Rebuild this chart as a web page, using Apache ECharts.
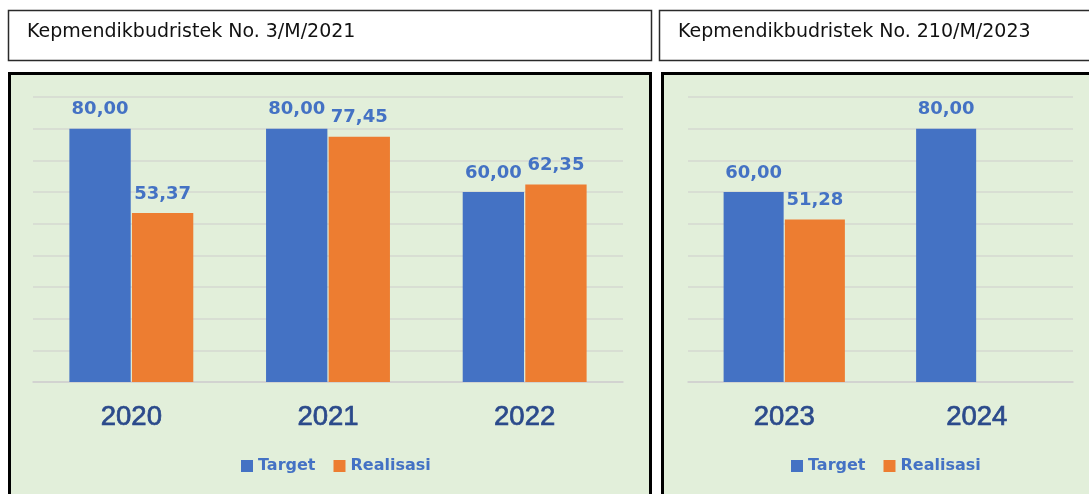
<!DOCTYPE html>
<html lang="id">
<head>
    <meta charset="utf-8">
    <title>Target dan Realisasi</title>
    <script src="https://cdn.jsdelivr.net/npm/echarts@6/dist/echarts.min.js"></script>
    <style type="text/css">
        html, body {
            width: 100%;
            height: 100%;
            margin: 0px;
            padding: 0px;
            background: #ffffff;
        }
        #main {
            width: 1089px;
            height: 494px;
        }
    </style>
</head>
<body>
<div id="main"></div>
<script>
    // data
    var judulKiri = 'Kepmendikbudristek No. 3/M/2021';
    var judulKanan = 'Kepmendikbudristek No. 210/M/2023';
    var seriesNames = ['Target', 'Realisasi'];

    var tahunKiri = ['2020', '2021', '2022'];
    var targetKiri = [80.00, 80.00, 60.00];
    var realisasiKiri = [53.37, 77.45, 62.35];

    var tahunKanan = ['2023', '2024'];
    var targetKanan = [60.00, 80.00];
    var realisasiKanan = [51.28, null];

    var biru = '#4472C4';
    var oranye = '#ED7D31';
    var hijau = '#E2EFDA';

    var myChart = echarts.init(document.getElementById('main'));

    function fmt(p) {
        return p.value == null ? '' : p.value.toFixed(2).replace('.', ',');
    }

    var labelStyle = {
        show: true,
        position: 'top',
        distance: 10,
        color: biru,
        fontFamily: 'DejaVu Sans',
        fontWeight: 'bold',
        fontSize: 18,
        formatter: fmt
    };

    function xAxis(idx, data) {
        return {
            type: 'category',
            gridIndex: idx,
            data: data,
            axisTick: { show: false },
            axisLine: { lineStyle: { color: '#D0D0D0', width: 1.5 } },
            axisLabel: {
                margin: 21,
                color: '#2B4A8B',
                fontFamily: 'Liberation Sans',
                fontSize: 27.5,
                // sedikit ditebalkan, seperti di gambar asli
                textBorderColor: '#2B4A8B',
                textBorderWidth: 0.7
            }
        };
    }

    function yAxis(idx) {
        return {
            type: 'value',
            gridIndex: idx,
            min: 0,
            max: 90,
            interval: 10,
            axisLabel: { show: false },
            axisLine: { show: false },
            axisTick: { show: false },
            splitLine: { lineStyle: { color: '#D4D8D0', width: 1.5 } }
        };
    }

    function bar(name, idx, data, color) {
        return {
            name: name,
            type: 'bar',
            xAxisIndex: idx,
            yAxisIndex: idx,
            data: data,
            barGap: '2%',
            barCategoryGap: '37%',
            itemStyle: { color: color },
            label: labelStyle
        };
    }

    function legend(left) {
        return {
            left: left,
            top: 453,
            itemWidth: 12,
            itemHeight: 12,
            itemGap: 18,
            icon: 'rect',
            data: seriesNames,
            textStyle: {
                color: biru,
                fontFamily: 'DejaVu Sans',
                fontWeight: 'bold',
                fontSize: 16
            }
        };
    }

    var option = {
        backgroundColor: '#ffffff',
        animation: false,
        color: [biru, oranye],
        graphic: [
            // kotak judul
            { type: 'rect', z: -5, shape: { x: 8.5, y: 10.5, width: 643, height: 50 },
              style: { fill: '#ffffff', stroke: '#2a2a2a', lineWidth: 1.5 } },
            { type: 'rect', z: -5, shape: { x: 659.5, y: 10.5, width: 440, height: 50 },
              style: { fill: '#ffffff', stroke: '#2a2a2a', lineWidth: 1.5 } },
            { type: 'text', z: 5, left: 27, top: 23,
              style: { text: judulKiri, fill: '#111', font: '19px "DejaVu Sans"' } },
            { type: 'text', z: 5, left: 678, top: 23,
              style: { text: judulKanan, fill: '#111', font: '19px "DejaVu Sans"' } },
            // panel hijau
            { type: 'rect', z: -5, shape: { x: 9.5, y: 73.5, width: 641, height: 440 },
              style: { fill: hijau, stroke: '#000', lineWidth: 3 } },
            { type: 'rect', z: -5, shape: { x: 662.5, y: 73.5, width: 440, height: 440 },
              style: { fill: hijau, stroke: '#000', lineWidth: 3 } }
        ],
        legend: [legend(236), legend(786)],
        grid: [
            { left: 33, top: 97, width: 590, height: 285 },
            { left: 688, top: 97, width: 385, height: 285 }
        ],
        xAxis: [xAxis(0, tahunKiri), xAxis(1, tahunKanan)],
        yAxis: [yAxis(0), yAxis(1)],
        series: [
            bar('Target', 0, targetKiri, biru),
            bar('Realisasi', 0, realisasiKiri, oranye),
            bar('Target', 1, targetKanan, biru),
            bar('Realisasi', 1, realisasiKanan, oranye)
        ]
    };

    myChart.setOption(option);
</script>
</body>
</html>
